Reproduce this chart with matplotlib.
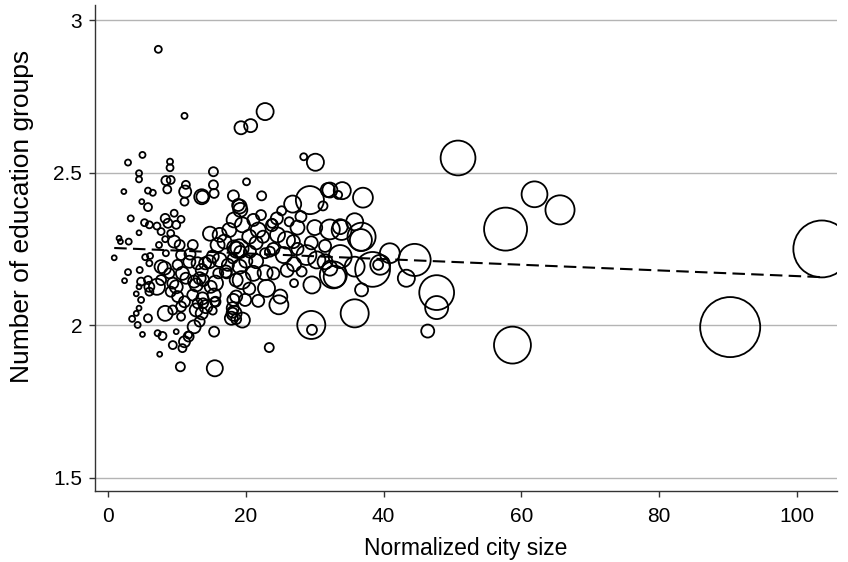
import numpy as np
import matplotlib
matplotlib.use("Agg")
import matplotlib.pyplot as plt

# normalized city size, number of education groups, city weight
city_size = [
    103.6, 90.3, 50.8, 57.7, 61.9, 65.6, 58.7, 47.7, 47.7, 46.4, 44.5, 43.3, 35.8, 36.8, 38.4, 39.5,
    40.9, 36.7, 36.8, 35.8, 33.9, 32.2, 37.0, 34.0, 33.4, 32.2, 33.7, 35.8, 32.7, 39.2, 32.2, 29.5,
    29.6, 23.4, 15.5, 32.9, 29.6, 27.0, 24.8, 25.0, 23.0, 18.6, 18.1, 18.2, 19.9, 15.2, 13.8, 15.5,
    19.4, 21.1, 22.8, 24.0, 27.0, 28.1, 28.8, 30.3, 31.5, 25.9, 26.9, 24.6, 22.8, 23.5, 18.7, 18.3,
    19.2, 14.8, 13.8, 14.1, 16.0, 17.2, 20.6, 21.8, 23.8, 33.7, 22.8, 20.7, 19.3, 30.1, 28.4, 15.3,
    20.1, 15.3, 15.4, 13.7, 22.3, 18.2, 29.3, 26.8, 31.9, 31.2, 25.2, 28.0, 26.3, 18.9, 19.2, 22.2,
    23.8, 21.1, 7.3, 11.1, 5.0, 2.9, 9.0, 9.0, 4.5, 4.5, 8.4, 9.1, 11.3, 8.6, 2.3, 5.8,
    6.5, 11.2, 13.6, 4.9, 5.8, 11.1, 19.1, 3.3, 5.3, 6.0, 7.1, 4.5, 8.3, 9.6, 8.7, 7.7,
    9.9, 10.6, 9.1, 1.6, 1.8, 3.0, 7.4, 8.3, 0.9, 4.6, 2.9, 2.4, 5.4, 6.1, 6.0, 4.8,
    5.8, 4.5, 6.0, 7.1, 6.0, 4.1, 4.8, 4.5, 4.1, 3.5, 4.3, 5.0, 5.8, 7.2, 7.9, 7.5,
    9.9, 9.4, 10.8, 11.7, 10.5, 8.3, 9.4, 10.6, 7.7, 8.2, 8.9, 7.7, 10.1, 10.6, 11.8, 11.9,
    12.3, 9.6, 10.4, 8.4, 10.8, 11.3, 12.5, 12.8, 13.3, 13.6, 13.0, 9.4, 9.9, 9.1, 10.1, 11.1,
    10.6, 12.3, 13.0, 13.7, 12.8, 13.6, 14.2, 15.4, 14.9, 15.6, 15.6, 14.7, 15.2, 16.2, 15.9, 16.2,
    16.9, 17.6, 18.3, 19.5, 19.1, 18.1, 17.4, 19.1, 18.6, 17.1, 18.6, 18.1, 18.3, 17.9, 12.5, 11.7,
    11.1, 15.4, 13.3, 19.5, 20.5, 21.5, 22.5, 20.0, 21.5, 24.0, 25.5, 27.5, 29.5, 31.5, 30.0, 27.5,
    24.5, 26.0, 20.5, 21.8,
]
edu_groups = [
    2.25, 1.994, 2.548, 2.315, 2.429, 2.378, 1.935, 2.107, 2.058, 1.981, 2.214, 2.154, 2.039, 2.116, 2.183, 2.198,
    2.236, 2.279, 2.290, 2.339, 2.312, 2.314, 2.418, 2.441, 2.427, 2.443, 2.225, 2.192, 2.165, 2.198, 2.187, 2.001,
    1.985, 1.927, 1.859, 2.159, 2.132, 2.138, 2.067, 2.094, 2.121, 2.02, 2.041, 2.083, 2.083, 2.048, 2.072, 2.077,
    2.148, 2.17, 2.172, 2.17, 2.2, 2.176, 2.23, 2.214, 2.208, 2.279, 2.274, 2.296, 2.236, 2.241, 2.247, 2.255,
    2.24, 2.30, 2.148, 2.203, 2.17, 2.17, 2.241, 2.312, 2.328, 2.323, 2.70, 2.654, 2.647, 2.534, 2.552, 2.503,
    2.47, 2.46, 2.432, 2.421, 2.424, 2.424, 2.41, 2.397, 2.443, 2.391, 2.375, 2.356, 2.339, 2.394, 2.378, 2.361,
    2.334, 2.345, 2.904, 2.686, 2.558, 2.533, 2.536, 2.516, 2.498, 2.478, 2.474, 2.476, 2.46, 2.445, 2.438, 2.441,
    2.434, 2.438, 2.421, 2.405, 2.387, 2.405, 2.389, 2.35, 2.336, 2.329, 2.325, 2.303, 2.35, 2.367, 2.334, 2.307,
    2.329, 2.347, 2.301, 2.285, 2.274, 2.274, 2.263, 2.282, 2.221, 2.181, 2.174, 2.146, 2.223, 2.227, 2.203, 2.143,
    2.148, 2.126, 2.126, 2.126, 2.11, 2.103, 2.083, 2.056, 2.039, 2.021, 2.001, 1.97, 2.023, 1.974, 1.965, 1.905,
    1.979, 1.935, 1.925, 1.968, 1.864, 2.039, 2.05, 2.028, 2.192, 2.187, 2.17, 2.148, 2.198, 2.23, 2.208, 2.233,
    2.263, 2.274, 2.263, 2.236, 2.17, 2.154, 2.143, 2.132, 2.154, 2.181, 2.203, 2.138, 2.126, 2.11, 2.094, 2.077,
    2.061, 2.099, 2.072, 2.088, 2.05, 2.039, 2.061, 2.099, 2.126, 2.138, 2.077, 2.208, 2.225, 2.214, 2.263, 2.296,
    2.274, 2.312, 2.345, 2.329, 2.252, 2.219, 2.198, 2.192, 2.148, 2.176, 2.094, 2.056, 2.039, 2.023, 1.995, 1.963,
    1.946, 1.979, 2.012, 2.017, 2.29, 2.27, 2.29, 2.21, 2.21, 2.25, 2.23, 2.25, 2.27, 2.26, 2.32, 2.32,
    2.35, 2.18, 2.12, 2.08,
]
weight = [
    107, 119, 40, 61, 22, 28, 45, 40, 17.5, 5.6, 34, 9.6, 26, 5.6, 40, 13,
    13, 16, 26, 9.6, 13, 13, 13, 9.6, 2.1, 7.4, 17.5, 13, 24, 3.3, 7.4, 26,
    3.3, 2.7, 8.5, 16, 9.6, 2.1, 11.9, 6.5, 9.6, 3.3, 3.3, 4.8, 4.8, 2.1, 3.3, 2.7,
    10.7, 7.4, 7.4, 4.8, 6.5, 3.3, 13, 9.6, 7.4, 9.6, 5.6, 7.4, 3.3, 3.3, 8.5, 6.5,
    4.8, 6.5, 4.8, 4.8, 3.3, 3.3, 4.8, 7.4, 4.8, 7.4, 9.6, 5.6, 5.6, 9.6, 1.6, 2.7,
    1.6, 2.7, 2.7, 4.8, 2.7, 4, 26, 9.6, 6.5, 2.7, 2.7, 4, 2.7, 4.8, 6.5, 3.3,
    2.7, 4.8, 1.6, 1.2, 1.2, 1.2, 1.2, 1.6, 1.2, 1.2, 2.7, 2.1, 2.1, 2.1, 0.8, 1.2,
    1.2, 4.8, 7.4, 0.8, 2.1, 2.1, 6.5, 1.2, 1.6, 1.6, 1.6, 0.8, 2.7, 1.6, 2.7, 1.6,
    2.1, 1.6, 1.6, 0.8, 0.8, 1.2, 1.2, 1.2, 0.8, 1.2, 1.2, 0.8, 1.2, 1.2, 1.2, 2.1,
    2.1, 0.8, 3.3, 8.5, 2.1, 0.8, 1.2, 0.8, 0.8, 1.2, 1.2, 0.8, 2.1, 1.2, 2.1, 0.8,
    0.8, 2.1, 2.1, 1.6, 2.7, 7.4, 2.7, 2.1, 5.6, 5.6, 3.3, 3.3, 3.3, 3.3, 4.8, 4,
    3.3, 4.8, 3.3, 1.2, 5.6, 4, 4.8, 5.6, 4.8, 4.8, 4.8, 4, 5.6, 3.3, 4, 4,
    3.3, 4, 3.3, 4.8, 5.6, 4.8, 5.6, 5.6, 4.8, 7.4, 3.3, 5.6, 4.8, 6.5, 6.5, 6.5,
    6.5, 6.5, 7.4, 7.4, 10.7, 3.3, 4.8, 6.5, 5.6, 4.8, 4.8, 4.8, 7.4, 5.6, 5.6, 3.3,
    4, 3.3, 3.3, 7.4, 6.5, 5.6, 4.8, 5.6, 6.5, 4.8, 8.5, 4.8, 5.6, 4.8, 7.4, 6.5,
    4.8, 5.6, 4.8, 4.8,
]

# linear fit
fit_intercept = 2.254
fit_slope = -0.00093

x = np.array(city_size)
y = np.array(edu_groups)
w = np.array(weight)

plt.rcParams['font.family'] = ['Liberation Sans', 'DejaVu Sans']

fig = plt.figure(figsize=(8.48, 5.62), dpi=100)
ax = fig.add_axes([0.1117, 0.1258, 0.8753, 0.8652])

ax.scatter(x, y, s=w * 15.7, facecolors='none', edgecolors='black', linewidths=1.3, zorder=3)

xf = np.array([x.min(), x.max()])
ax.plot(xf, fit_intercept + fit_slope * xf, color='black', lw=1.5, dashes=(6, 3), zorder=4)

ax.set_xlim(-1.93, 105.8)
ax.set_ylim(1.456, 3.049)
ax.set_xticks([0, 20, 40, 60, 80, 100])
ax.set_yticks([1.5, 2, 2.5, 3])
ax.set_yticklabels(['1.5', '2', '2.5', '3'])
ax.grid(axis='y', color='#b4b4b4', lw=1.0, zorder=0)
ax.spines['top'].set_visible(False)
ax.spines['right'].set_visible(False)
for s in ['left', 'bottom']:
    ax.spines[s].set_color('#333333')
    ax.spines[s].set_linewidth(1.0)
ax.tick_params(axis='both', length=4, width=1, color='#333333', labelsize=15)
ax.tick_params(axis='x', pad=7)
ax.tick_params(axis='y', pad=5)

ax.set_xlabel('Normalized city size', fontsize=16.5, labelpad=8)
ax.set_ylabel('Number of education groups', fontsize=19)
ax.yaxis.set_label_coords(-0.082, 0.566)

fig.savefig('out.png', dpi=100)
